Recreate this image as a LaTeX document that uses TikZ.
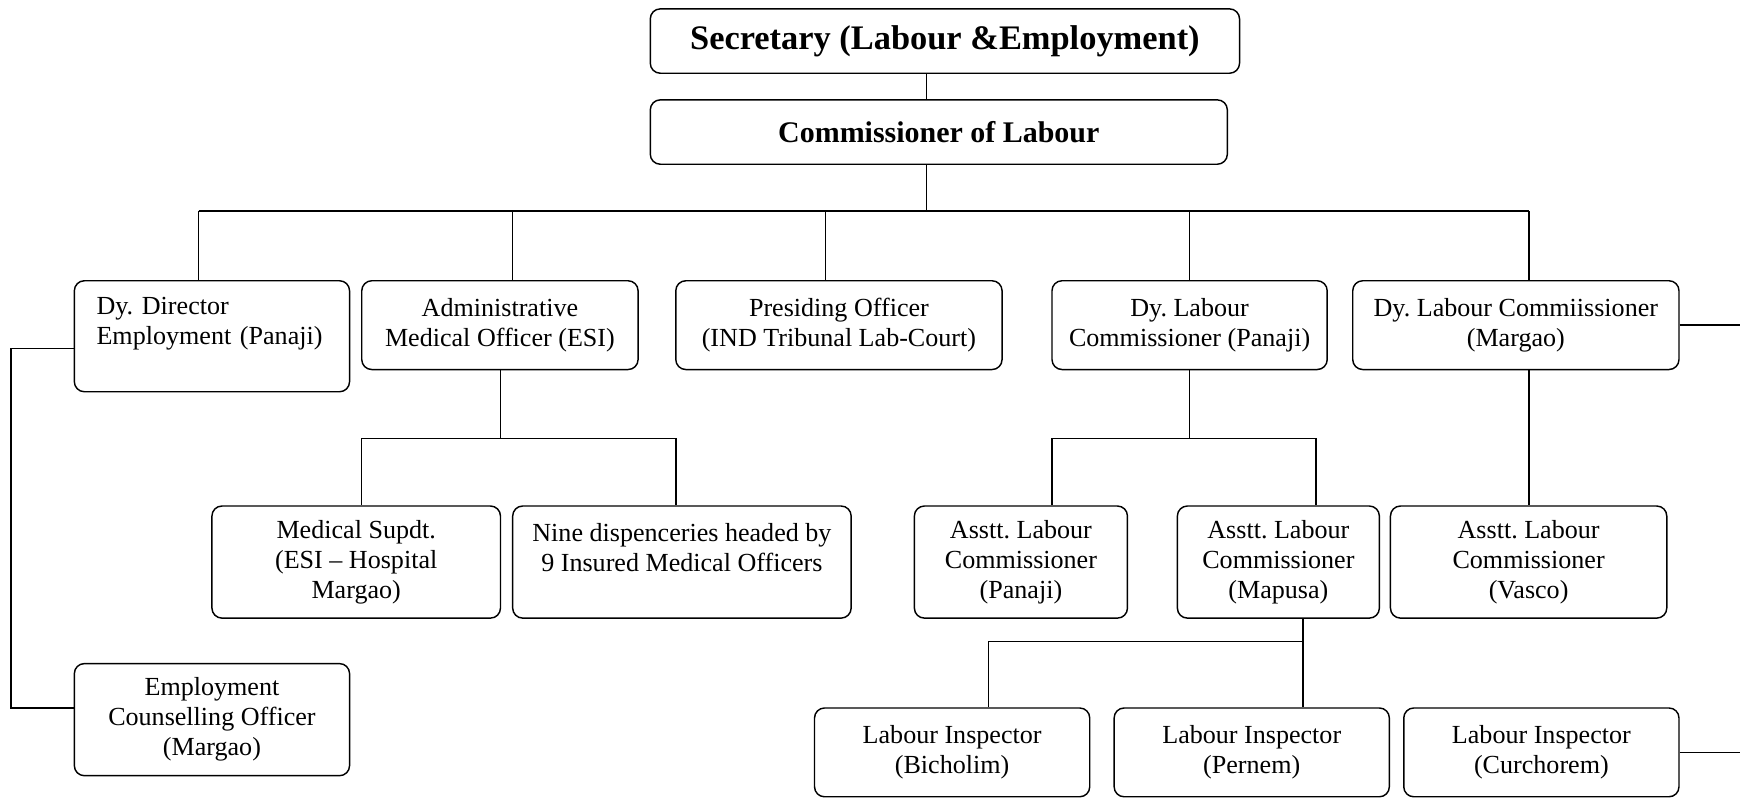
\documentclass[tikz,border=0pt]{standalone}
\usepackage{fontspec}
\setmainfont{Liberation Serif}
\frenchspacing
\begin{document}
\begin{tikzpicture}[x=1pt,y=-1pt,
  box/.style={draw, rounded corners=9pt, line width=1.3pt, inner sep=0pt, align=center,
    font=\fontsize{23.5}{27}\selectfont},
  conn/.style={line width=1.3pt}]
\useasboundingbox (0,0) rectangle (1568,720);
% top
\node[box, minimum width=531pt, minimum height=58pt, font=\fontsize{31}{35}\selectfont\bfseries] (sec) at (851.5,37) {Secretary (Labour \&Employment)};
\node[box, minimum width=520pt, minimum height=58pt, font=\fontsize{27}{30}\selectfont\bfseries] (com) at (846,119) {Commissioner of Labour};
% row 2
\node[box, minimum width=248pt, minimum height=100pt, align=left, text width=208pt, inner xsep=20pt] (ddir) at (191,303) {Dy. Director\\Employment (Panaji)\\\mbox{}};
\node[box, minimum width=249pt, minimum height=80pt] (amo) at (450.5,293) {Administrative\\Medical Officer (ESI)};
\node[box, minimum width=294pt, minimum height=80pt] (po) at (756,293) {Presiding Officer\\(IND Tribunal Lab-Court)};
\node[box, minimum width=248pt, minimum height=80pt] (dlcp) at (1072,293) {Dy. Labour\\Commissioner (Panaji)};
\node[box, minimum width=294pt, minimum height=80pt] (dlcm) at (1366,293) {Dy. Labour Commiissioner\\(Margao)};
% row 3
\node[box, minimum width=260pt, minimum height=101pt] (ms) at (321,506.5) {Medical Supdt.\\(ESI -- Hospital\\Margao)};
\node[box, minimum width=305pt, minimum height=101pt] (nine) at (614.5,506.5) {Nine dispenceries headed by\\9 Insured Medical Officers\\\mbox{}};
\node[box, minimum width=192pt, minimum height=101pt] (alcp) at (920,506.5) {Asstt. Labour\\Commissioner\\(Panaji)};
\node[box, minimum width=182pt, minimum height=101pt] (alcm) at (1152,506.5) {Asstt. Labour\\Commissioner\\(Mapusa)};
\node[box, minimum width=249pt, minimum height=101pt] (alcv) at (1377.5,506.5) {Asstt. Labour\\Commissioner\\(Vasco)};
% row 4
\node[box, minimum width=248pt, minimum height=101pt] (eco) at (191,648.5) {Employment\\Counselling Officer\\(Margao)};
\node[box, minimum width=248pt, minimum height=80pt] (lib) at (858,678) {Labour Inspector\\(Bicholim)};
\node[box, minimum width=248pt, minimum height=80pt] (lip) at (1128,678) {Labour Inspector\\(Pernem)};
\node[box, minimum width=248pt, minimum height=80pt] (lic) at (1389,678) {Labour Inspector\\(Curchorem)};
% coordinates
\coordinate (trunk) at (835,190);
\coordinate (d1) at (179,190);
\coordinate (d2) at (462,190);
\coordinate (d3) at (744,190);
\coordinate (d4) at (1072,190);
\coordinate (d5) at (1378,190);
\coordinate (mbus) at (451,395);
\coordinate (m1) at (326,395);
\coordinate (m2) at (609,395);
\coordinate (pbus) at (1072,395);
\coordinate (p1) at (948,395);
\coordinate (p2) at (1186,395);
\coordinate (lbus) at (1174,578);
\coordinate (l1) at (891,578);
\coordinate (left) at (10,314);
\coordinate (rend1) at (1568,293);
\coordinate (rend2) at (1568,678);
% connectors
\draw[conn] (sec.south -| trunk) -- (com.north -| trunk);
\draw[conn] (com.south -| trunk) -- (trunk);
\draw[conn] (d1) -- (d5);
\draw[conn] (d1) -- (ddir.north -| d1);
\draw[conn] (d2) -- (amo.north -| d2);
\draw[conn] (d3) -- (po.north -| d3);
\draw[conn] (d4) -- (dlcp.north -| d4);
\draw[conn] (d5) -- (dlcm.north -| d5);
\draw[conn] (amo.south -| mbus) -- (mbus);
\draw[conn] (m1) -- (m2);
\draw[conn] (m1) -- (ms.north -| m1);
\draw[conn] (m2) -- (nine.north -| m2);
\draw[conn] (dlcp.south -| pbus) -- (pbus);
\draw[conn] (p1) -- (p2);
\draw[conn] (p1) -- (alcp.north -| p1);
\draw[conn] (p2) -- (alcm.north -| p2);
\draw[conn] (dlcm.south -| d5) -- (alcv.north -| d5);
\draw[conn] (alcm.south -| lbus) -- (lip.north -| lbus);
\draw[conn] (lbus) -- (l1) -- (lib.north -| l1);
\draw[conn] (ddir.west |- left) -- (left) |- (eco.west |- 0,638);
\draw[conn] (dlcm.east) -- (rend1);
\draw[conn] (lic.east) -- (rend2);
\end{tikzpicture}
\end{document}
